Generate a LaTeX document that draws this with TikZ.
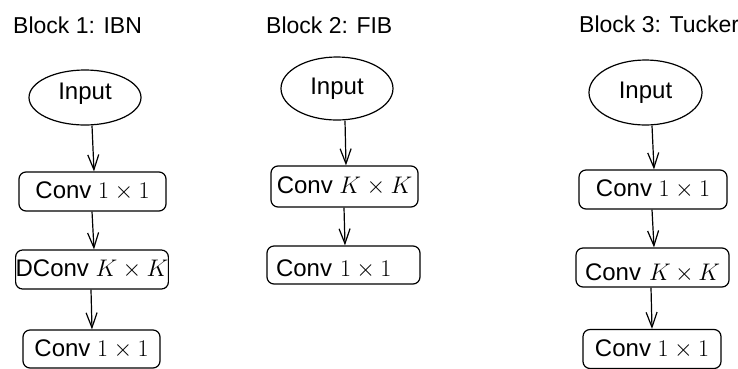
\RequirePackage{fix-cm}
\documentclass[tikz,border=0pt]{standalone}
\usepackage{fontspec}
\setsansfont{Liberation Sans}
\usetikzlibrary{shapes.geometric,arrows.meta}
\begin{document}
\begin{tikzpicture}[x=1pt,y=-1pt,
  every node/.style={font=\fontsize{24}{28}\selectfont\sffamily},
  inp/.style={ellipse,draw,line width=1.2pt,inner sep=0pt},
  box/.style={draw,rounded corners=7pt,line width=1.2pt,inner sep=0pt},
  ttl/.style={anchor=base west,inner sep=0pt,font=\fontsize{23}{27}\selectfont\sffamily},
  arr/.style={line width=1.2pt,-{Straight Barb[length=15pt,width=11pt,line width=1.2pt]}}]
\useasboundingbox (0,0) rectangle (738,368);
% Block 1
\node[ttl] (t1) at (13,33) {Block 1: IBN};
\node[inp,minimum width=112pt,minimum height=55pt,text height=17pt,text depth=14pt] (e1) at (85,97.5) {Input};
\node[box,minimum width=147pt,minimum height=39pt] (b11) at (92.5,191.5) {Conv $1\times1$};
\node[box,minimum width=152pt,minimum height=39pt] (b12) at (92,269.5) {DConv $K\times K$};
\node[box,minimum width=137pt,minimum height=38pt] (b13) at (91.5,349) {Conv $1\times1$};
\draw[arr] ([xshift=7pt]e1.south) -- ([xshift=1.5pt]b11.north);
\draw[arr] ([xshift=-0.5pt]b11.south) -- ([xshift=2pt]b12.north);
\draw[arr] ([xshift=-1pt]b12.south) -- ([xshift=0.5pt]b13.north);
% Block 2
\node[ttl] (t2) at (266,33) {Block 2: FIB};
\node[inp,minimum width=112pt,minimum height=63pt] (e2) at (337,88.5) {Input};
\node[box,minimum width=147pt,minimum height=41pt] (b21) at (344.5,186.5) {Conv $K\times K$};
\node[box,minimum width=153pt,minimum height=38pt,text width=135pt,align=left,text height=23pt,text depth=0pt] (b22) at (343.5,265) {Conv $1\times1$};
\draw[arr] ([xshift=8pt]e2.south) -- ([xshift=1.5pt]b21.north);
\draw[arr] ([xshift=-0.5pt]b21.south) -- ([xshift=1.5pt]b22.north);
% Block 3
\node[ttl] (t3) at (579,32) {Block 3: Tucker};
\node[inp,minimum width=113pt,minimum height=65pt] (e3) at (645.5,92.5) {Input};
\node[box,minimum width=148pt,minimum height=39pt] (b31) at (653,189.5) {Conv $1\times1$};
\node[box,minimum width=153pt,minimum height=39pt,text width=135pt,align=left,text height=25pt,text depth=0pt] (b32) at (652.5,267.5) {Conv $K\times K$};
\node[box,minimum width=138pt,minimum height=39pt] (b33) at (652,349) {Conv $1\times1$};
\draw[arr] ([xshift=6.5pt]e3.south) -- ([xshift=1pt]b31.north);
\draw[arr] ([xshift=-1pt]b31.south) -- ([xshift=1.5pt]b32.north);
\draw[arr] ([xshift=-1.5pt]b32.south) -- ([xshift=0pt]b33.north);
\end{tikzpicture}
\end{document}
